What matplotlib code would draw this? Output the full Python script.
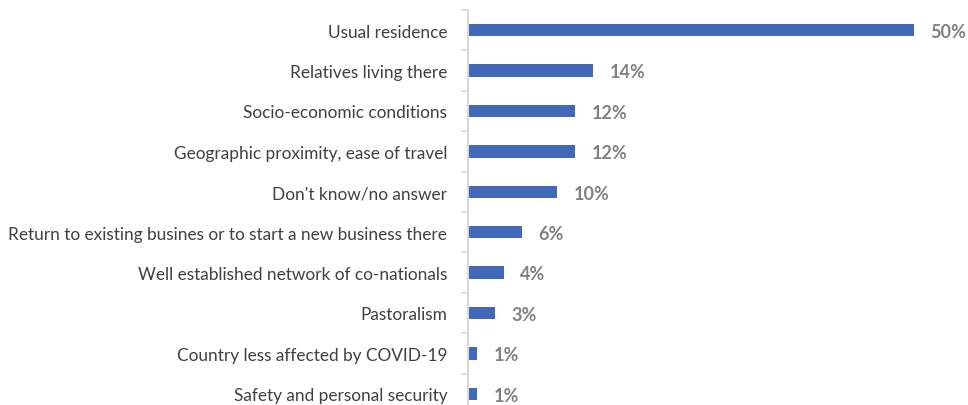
import matplotlib.pyplot as plt
import numpy as np

categories = ['Usual residence', 'Relatives living there', 'Socio-economic conditions',
              'Geographic proximity, ease of travel', "Don't know/no answer",
              'Return to existing busines or to start a new business there',
              'Well established network of co-nationals', 'Pastoralism',
              'Country less affected by COVID-19', 'Safety and personal security']
values = [50, 14, 12, 12, 10, 6, 4, 3, 1, 1]
labels = ['50%', '14%', '12%', '12%', '10%', '6%', '4%', '3%', '1%', '1%']

plt.rcParams['font.family'] = ['Lato', 'DejaVu Sans']

fig = plt.figure(figsize=(9.68, 4.06), dpi=100)
ax = fig.add_axes([468/968, -9/406, (914-468)/968, 404/406])

y = np.arange(len(categories))
ax.barh(y, values, height=0.31, color='#4169B8')
ax.set_ylim(len(categories) - 0.5, -0.5)
ax.set_xlim(0, 50)

for yi, v, lab in zip(y, values, labels):
    ax.annotate(lab, (v, yi), xytext=(12, -1), textcoords='offset points',
                ha='left', va='center', fontsize=13, fontweight='bold',
                color='#808080', annotation_clip=False)

ax.set_yticks(y)
ax.set_yticklabels(categories, fontsize=12.4, color='#404040')
ax.tick_params(axis='y', which='major', length=0, pad=15)
ax.set_yticks(np.arange(-0.5, len(categories), 1), minor=True)
ax.tick_params(axis='y', which='minor', length=5, width=1.3, color='#D9D9D9')
ax.set_xticks([])

for s in ['top', 'right', 'bottom']:
    ax.spines[s].set_visible(False)
ax.spines['left'].set_color('#D9D9D9')
ax.spines['left'].set_linewidth(1.5)

fig.savefig('out.png', dpi=100)
